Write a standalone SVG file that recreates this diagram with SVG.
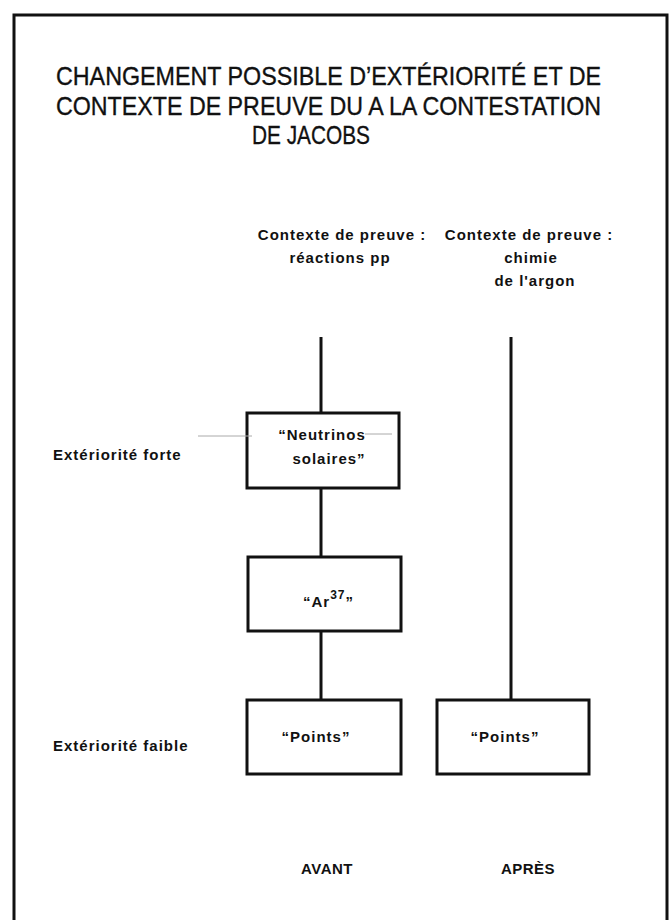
<svg xmlns="http://www.w3.org/2000/svg" width="672" height="920" viewBox="0 0 672 920">
<style>
.t{font-family:"Liberation Sans",Arial,sans-serif;fill:#111}
.title{font-size:26px;stroke:#111;stroke-width:0.35}
.lab{font-size:15px;font-weight:bold;letter-spacing:1px}
.foot{font-size:15px;font-weight:bold;letter-spacing:0.5px}
.box{fill:#fff;stroke:#111;stroke-width:3}
.con{stroke:#111;stroke-width:3;fill:none}
.faint{stroke:#aaa;stroke-width:1}
</style>
<rect width="672" height="920" fill="#fff"/>
<g id="frame"><path class="con" d="M14,922 V15 H667 V922"/></g>
<g id="title">
<text class="t title" x="56" y="85" textLength="545" lengthAdjust="spacingAndGlyphs">CHANGEMENT POSSIBLE D’EXTÉRIORITÉ ET DE</text>
<text class="t title" x="56" y="115" textLength="545" lengthAdjust="spacingAndGlyphs">CONTEXTE DE PREUVE DU A LA CONTESTATION</text>
<text class="t title" x="252" y="144" textLength="118" lengthAdjust="spacingAndGlyphs">DE JACOBS</text>
</g>
<g id="headers">
<text class="t lab" text-anchor="middle"><tspan x="342" y="240">Contexte de preuve :</tspan><tspan x="340" y="263">réactions pp</tspan></text>
<text class="t lab" text-anchor="middle"><tspan x="529" y="240">Contexte de preuve :</tspan><tspan x="531" y="263">chimie</tspan><tspan x="535" y="286">de l'argon</tspan></text>
</g>
<g id="levels">
<text class="t lab" x="53" y="460">Extériorité forte</text>
<text class="t lab" x="53" y="751">Extériorité faible</text>
</g>
<g id="node-neutrinos">
<rect class="box" x="247" y="413" width="152" height="75"/>
<text class="t lab" text-anchor="middle"><tspan x="322" y="440">“Neutrinos</tspan><tspan x="329" y="464">solaires”</tspan></text>
</g>
<g id="node-ar37">
<rect class="box" x="248" y="557" width="153" height="74"/>
<text class="t lab" x="303" y="607">“Ar<tspan dy="-8" font-size="12">37</tspan><tspan dy="8">”</tspan></text>
</g>
<g id="node-points-avant">
<rect class="box" x="247" y="700" width="154" height="74"/>
<text class="t lab" x="316" y="742" text-anchor="middle">“Points”</text>
</g>
<g id="node-points-apres">
<rect class="box" x="437" y="700" width="152" height="74"/>
<text class="t lab" x="505" y="742" text-anchor="middle">“Points”</text>
</g>
<g id="connectors">
<line class="con" x1="321" y1="337" x2="321" y2="413"/>
<line class="con" x1="321" y1="488" x2="321" y2="557"/>
<line class="con" x1="321" y1="631" x2="321" y2="700"/>
<line class="con" x1="511" y1="337" x2="511" y2="700"/>
<line class="faint" x1="198" y1="436" x2="252" y2="436"/>
<line class="faint" x1="365" y1="434" x2="392" y2="434"/>
</g>
<g id="footer">
<text class="t foot" x="327" y="874" text-anchor="middle">AVANT</text>
<text class="t foot" x="528" y="874" text-anchor="middle">APRÈS</text>
</g>
</svg>
